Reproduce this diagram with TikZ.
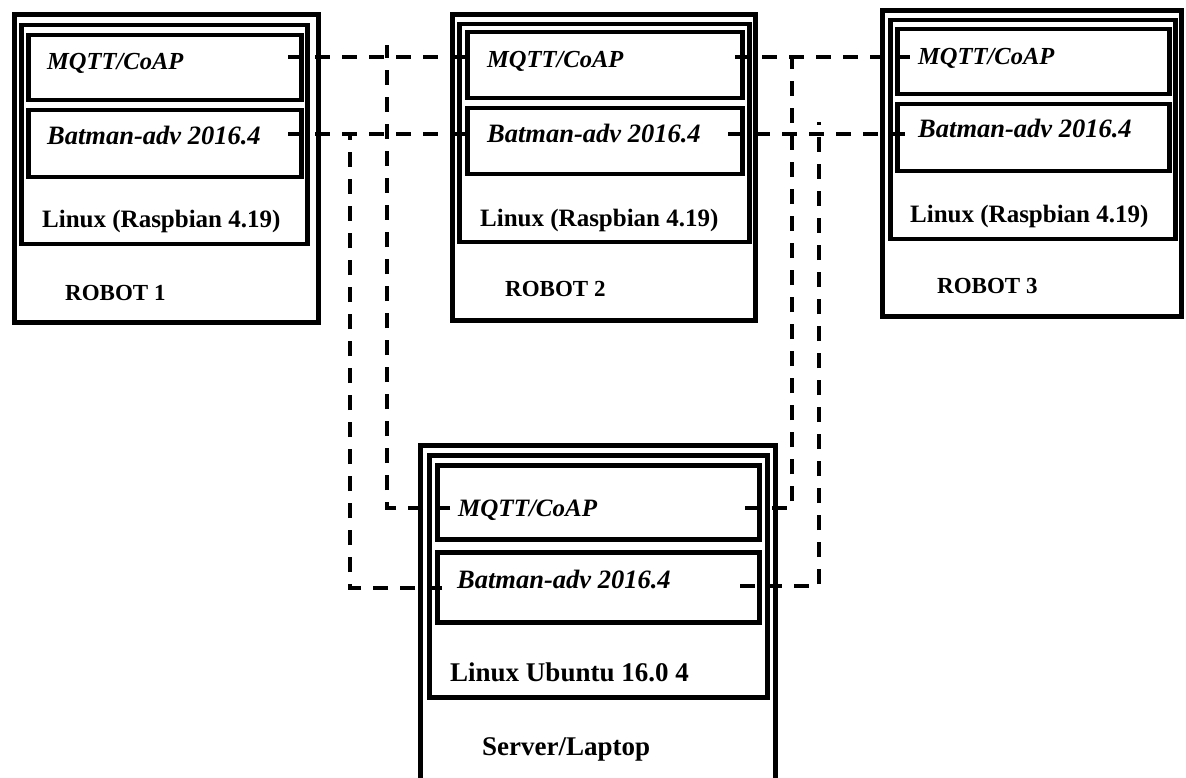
\documentclass[tikz,border=0pt]{standalone}
\usepackage{fontspec}
\setmainfont{Liberation Serif}
\tikzset{
  outerbox/.style={draw=black, line width=5pt, rectangle, inner sep=0pt, anchor=north west},
  midbox/.style={draw=black, line width=4.5pt, rectangle, inner sep=0pt, anchor=north west},
  layerbox/.style={draw=black, line width=4.5pt, rectangle, inner sep=0pt, anchor=north west},
  lbl/.style={anchor=base west, inner sep=0pt, font=\bfseries},
  ilbl/.style={anchor=base west, inner sep=0pt, font=\bfseries\itshape},
  link/.style={draw=black, line width=4pt, dash pattern=on 15pt off 12pt}
}
\begin{document}
\begin{tikzpicture}[x=1pt,y=-1pt]
\useasboundingbox (0,0) rectangle (1186,778);
\clip (0,0) rectangle (1186,778);
\fill[white] (0,0) rectangle (1186,778);

% ROBOT 1
\node[outerbox, minimum width=304pt, minimum height=308pt] (r1) at (12,12) {};
\node[midbox, minimum width=286pt, minimum height=219pt] (r1os) at (19,23) {};
\node[layerbox, minimum width=273pt, minimum height=65pt] (r1m) at (26,33) {};
\node[layerbox, minimum width=273pt, minimum height=67pt] (r1b) at (26,108) {};
\node[ilbl, font=\bfseries\itshape\fontsize{24.5}{28}\selectfont] (t1m) at (47,70) {MQTT/CoAP};
\node[ilbl, font=\bfseries\itshape\fontsize{26.5}{30}\selectfont] (t1b) at (47,145) {Batman-adv 2016.4};
\node[lbl, font=\bfseries\fontsize{25}{30}\selectfont] (t1l) at (42,228) {Linux (Raspbian 4.19)};
\node[lbl, font=\bfseries\fontsize{23}{28}\selectfont] (t1r) at (65,300) {ROBOT 1};

% ROBOT 2
\node[outerbox, minimum width=303pt, minimum height=306pt] (r2) at (450,12) {};
\node[midbox, minimum width=290pt, minimum height=218pt] (r2os) at (457,22) {};
\node[layerbox, minimum width=275pt, minimum height=66pt] (r2m) at (465,30) {};
\node[layerbox, minimum width=275pt, minimum height=66pt] (r2b) at (465,106) {};
\node[ilbl, font=\bfseries\itshape\fontsize{24.5}{28}\selectfont] (t2m) at (487,68) {MQTT/CoAP};
\node[ilbl, font=\bfseries\itshape\fontsize{26.5}{30}\selectfont] (t2b) at (487,143) {Batman-adv 2016.4};
\node[lbl, font=\bfseries\fontsize{25}{30}\selectfont] (t2l) at (480,226) {Linux (Raspbian 4.19)};
\node[lbl, font=\bfseries\fontsize{23}{28}\selectfont] (t2r) at (505,296) {ROBOT 2};

% ROBOT 3
\node[outerbox, minimum width=299pt, minimum height=306pt] (r3) at (880,8) {};
\node[midbox, minimum width=285pt, minimum height=219pt] (r3os) at (888,18) {};
\node[layerbox, minimum width=272pt, minimum height=65pt] (r3m) at (895,27) {};
\node[layerbox, minimum width=272pt, minimum height=67pt] (r3b) at (895,102) {};
\node[ilbl, font=\bfseries\itshape\fontsize{24.5}{28}\selectfont] (t3m) at (918,65) {MQTT/CoAP};
\node[ilbl, font=\bfseries\itshape\fontsize{26.5}{30}\selectfont] (t3b) at (918,138) {Batman-adv 2016.4};
\node[lbl, font=\bfseries\fontsize{25}{30}\selectfont] (t3l) at (910,223) {Linux (Raspbian 4.19)};
\node[lbl, font=\bfseries\fontsize{23}{28}\selectfont] (t3r) at (937,293) {ROBOT 3};

% SERVER
\node[outerbox, minimum width=355pt, minimum height=360pt] (sv) at (418,443) {};
\node[midbox, minimum width=338pt, minimum height=242pt] (svos) at (427,453) {};
\node[layerbox, minimum width=322pt, minimum height=74pt] (svm) at (435,463) {};
\node[layerbox, minimum width=322pt, minimum height=70pt] (svb) at (435,550) {};
\node[ilbl, font=\bfseries\itshape\fontsize{25}{28}\selectfont] (tsm) at (458,516) {MQTT/CoAP};
\node[ilbl, font=\bfseries\itshape\fontsize{26.5}{30}\selectfont] (tsb) at (457,588) {Batman-adv 2016.4};
\node[lbl, font=\bfseries\fontsize{27}{32}\selectfont] (tsl) at (450,681) {Linux Ubuntu 16.0 4};
\node[lbl, font=\bfseries\fontsize{27}{32}\selectfont] (tsr) at (482,755) {Server/Laptop};

% connection points
\coordinate (a1) at (288,57);
\coordinate (a2) at (472,57);
\coordinate (a3) at (735,57);
\coordinate (a4) at (910,57);
\coordinate (b1) at (288,134);
\coordinate (b2) at (472,134);
\coordinate (b3) at (728,134);
\coordinate (b4) at (910,134);
\coordinate (v1a) at (387,45);
\coordinate (v1b) at (387,508);
\coordinate (v1c) at (450,508);
\coordinate (v2a) at (350,134);
\coordinate (v2b) at (350,588);
\coordinate (v2c) at (442,588);
\coordinate (v3a) at (792,57);
\coordinate (v3b) at (792,508);
\coordinate (v3c) at (745,508);
\coordinate (v4a) at (819,122);
\coordinate (v4b) at (819,586);
\coordinate (v4c) at (740,586);

\draw[link] (a1) -- (a2);
\draw[link] (a3) -- (a4);
\draw[link] (b1) -- (b2);
\draw[link] (b3) -- (b4);
\draw[link] (v1c) -- (v1b) -- (v1a);
\draw[link] (v2c) -- (v2b) -- (v2a);
\draw[link] (v3c) -- (v3b) -- (v3a);
\draw[link] (v4c) -- (v4b) -- (v4a);
\end{tikzpicture}
\end{document}
